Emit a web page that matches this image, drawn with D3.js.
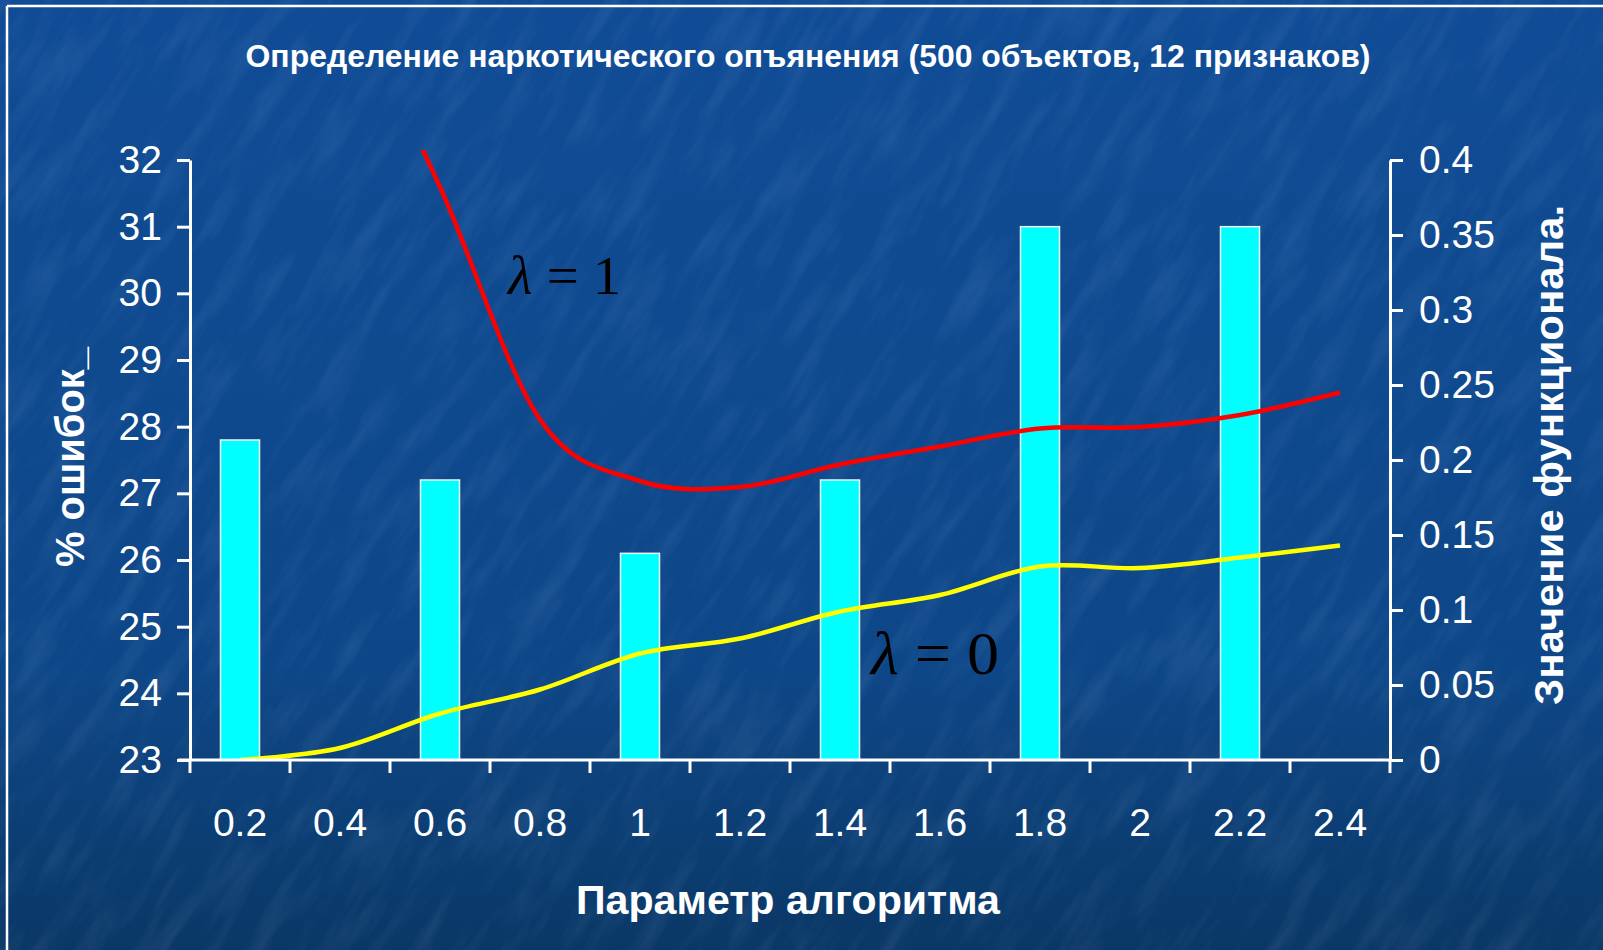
<!DOCTYPE html>
<meta charset='utf-8'>
<head>
    <title>Параметр алгоритма</title>
    <script src='https://cdn.jsdelivr.net/npm/d3@7/dist/d3.min.js'></script>
</head>

<style>
    body { margin: 0; background: #0d4587; }
    svg { display: block; }
    text { fill: #fff; font-family: 'Liberation Sans', Arial, sans-serif; }
    .tick text { font-size: 39px; }
    .axis path, .axis line { stroke: #fff; stroke-width: 3px; }
    .bar { fill: #00ffff; stroke: #f2f2f2; stroke-width: 1.5px; }
    .lam { fill: #000; font-family: 'Liberation Serif', 'Times New Roman', serif; }
</style>

<svg></svg>

<script>
    var vWidth = 1603;
    var vHeight = 950;

    // data
    var cats = ['0.2', '0.4', '0.6', '0.8', '1', '1.2', '1.4', '1.6', '1.8', '2', '2.2', '2.4'];
    var errPct = [27.8, null, 27.2, null, 26.1, null, 27.2, null, 31, null, 31, null];
    var lambda0 = [0.0, 0.008, 0.031, 0.047, 0.071, 0.081, 0.099, 0.110, 0.129, 0.128, 0.135, 0.143];
    var lambda1 = [null, 0.52, 0.382, 0.227, 0.186, 0.182, 0.197, 0.209, 0.221, 0.222, 0.230, 0.245];
    var leftTicks = [23, 24, 25, 26, 27, 28, 29, 30, 31, 32];
    var rightTicks = [0, 0.05, 0.1, 0.15, 0.2, 0.25, 0.3, 0.35, 0.4];

    var svg = d3.select('svg').attr('width', vWidth).attr('height', vHeight);
    var defs = svg.append('defs');

    // background: blue gradient + streaky texture
    var grad = defs.append('linearGradient').attr('id', 'bg')
        .attr('x1', 0).attr('y1', 0).attr('x2', 0).attr('y2', 1);
    grad.append('stop').attr('offset', '0%').attr('stop-color', '#104c96');
    grad.append('stop').attr('offset', '70%').attr('stop-color', '#0e4788');
    grad.append('stop').attr('offset', '100%').attr('stop-color', '#0a3866');

    var filt = defs.append('filter').attr('id', 'streaks')
        .attr('x', 0).attr('y', 0).attr('width', 1).attr('height', 1);
    filt.append('feTurbulence').attr('type', 'fractalNoise')
        .attr('baseFrequency', '0.05 0.01').attr('numOctaves', 4).attr('seed', 11);
    filt.append('feColorMatrix').attr('type', 'matrix')
        .attr('values', '0 0 0 0 0.5  0 0 0 0 0.68  0 0 0 0 1  0 0 0 1.4 -0.62');

    svg.append('rect').attr('width', vWidth).attr('height', vHeight).attr('fill', 'url(#bg)');
    svg.append('g')
        .attr('transform', 'translate(800,475) rotate(32)')
        .append('rect')
        .attr('x', -1100).attr('y', -1100).attr('width', 2200).attr('height', 2200)
        .attr('filter', 'url(#streaks)')
        .attr('opacity', 0.14);

    // white frame lines
    svg.append('line').attr('x1', 7).attr('y1', 6).attr('x2', vWidth).attr('y2', 6)
        .attr('stroke', '#fff').attr('stroke-width', 2.5);
    svg.append('line').attr('x1', 7).attr('y1', 6).attr('x2', 7).attr('y2', vHeight)
        .attr('stroke', '#fff').attr('stroke-width', 2.5);

    // plot area
    var pLeft = 190, pRight = 1390, pTop = 160, pBottom = 760;

    var x = d3.scaleBand().domain(cats).range([pLeft, pRight]).padding(0);
    var yL = d3.scaleLinear().domain([23, 32]).range([pBottom, pTop]);
    var yR = d3.scaleLinear().domain([0, 0.4]).range([pBottom, pTop]);
    var barW = x.bandwidth() * 0.39;

    // bars
    var barData = cats.map(function (c, i) { return {c: c, v: errPct[i]}; })
        .filter(function (d) { return d.v != null; });
    svg.append('g').selectAll('rect').data(barData).enter().append('rect')
        .attr('class', 'bar')
        .attr('x', function (d) { return x(d.c) + x.bandwidth() / 2 - barW / 2; })
        .attr('width', barW)
        .attr('y', function (d) { return yL(d.v); })
        .attr('height', function (d) { return yL(23) - yL(d.v); });

    // lines
    defs.append('clipPath').attr('id', 'clip').append('rect')
        .attr('x', pLeft).attr('y', pTop - 10).attr('width', pRight - pLeft).attr('height', pBottom - pTop + 10);

    var line = d3.line()
        .defined(function (d) { return d.v != null; })
        .x(function (d) { return x(d.c) + x.bandwidth() / 2; })
        .y(function (d) { return yR(d.v); })
        .curve(d3.curveCatmullRom.alpha(0));

    function series(vals) {
        return cats.map(function (c, i) { return {c: c, v: vals[i]}; });
    }

    var gl = svg.append('g').attr('clip-path', 'url(#clip)');
    gl.append('path').datum(series(lambda1)).attr('d', line)
        .attr('fill', 'none').attr('stroke', '#ff0000').attr('stroke-width', 4.5);
    gl.append('path').datum(series(lambda0)).attr('d', line)
        .attr('fill', 'none').attr('stroke', '#ffff00').attr('stroke-width', 4.5);

    // axes
    var fmt = function (d) { return String(+d.toFixed(2)); };

    svg.append('g').attr('class', 'axis')
        .attr('transform', 'translate(' + pLeft + ',0)')
        .call(d3.axisLeft(yL).tickValues(leftTicks).tickSize(13).tickSizeOuter(0).tickPadding(15));

    svg.append('g').attr('class', 'axis')
        .attr('transform', 'translate(' + pRight + ',0)')
        .call(d3.axisRight(yR).tickValues(rightTicks).tickFormat(fmt).tickSize(13).tickSizeOuter(0).tickPadding(16));

    var xAxis = svg.append('g').attr('class', 'axis')
        .attr('transform', 'translate(0,' + pBottom + ')')
        .call(d3.axisBottom(x).tickSize(0).tickPadding(48));
    xAxis.select('.domain').attr('d', 'M' + (pLeft - 12) + ',0H' + pRight);

    // boundary ticks between categories
    var bounds = cats.map(function (c) { return x(c); }).concat([pRight]);
    xAxis.selectAll('.btick').data(bounds).enter().append('line')
        .attr('class', 'btick')
        .attr('x1', function (d) { return d; }).attr('x2', function (d) { return d; })
        .attr('y1', 0).attr('y2', 13);

    // titles
    svg.append('text')
        .attr('x', 808).attr('y', 67)
        .attr('text-anchor', 'middle')
        .attr('textLength', 1125).attr('lengthAdjust', 'spacingAndGlyphs')
        .style('font-size', '31px').style('font-weight', 'bold')
        .text('Определение наркотического опъянения (500 объектов, 12 признаков)');

    svg.append('text')
        .attr('x', 788).attr('y', 914)
        .attr('text-anchor', 'middle')
        .attr('textLength', 424).attr('lengthAdjust', 'spacingAndGlyphs')
        .style('font-size', '40px').style('font-weight', 'bold')
        .text('Параметр алгоритма');

    svg.append('text')
        .attr('transform', 'translate(84,457) rotate(-90)')
        .attr('text-anchor', 'middle')
        .attr('textLength', 220).attr('lengthAdjust', 'spacingAndGlyphs')
        .style('font-size', '41px').style('font-weight', 'bold')
        .text('% ошибок_');

    svg.append('text')
        .attr('transform', 'translate(1563,455) rotate(-90)')
        .attr('text-anchor', 'middle')
        .attr('textLength', 500).attr('lengthAdjust', 'spacingAndGlyphs')
        .style('font-size', '40px').style('font-weight', 'bold')
        .text('Значение функционала.');

    // lambda annotations
    function lambdaLabel(px, py, size, val, len) {
        var t = svg.append('text').attr('class', 'lam')
            .attr('x', px).attr('y', py).style('font-size', size + 'px')
            .attr('textLength', len).attr('lengthAdjust', 'spacingAndGlyphs');
        t.append('tspan').style('font-style', 'italic').text('λ');
        t.append('tspan').text(' = ' + val);
    }
    lambdaLabel(508, 294, 54, '1', 113);
    lambdaLabel(871, 674, 62, '0', 128);
</script>
